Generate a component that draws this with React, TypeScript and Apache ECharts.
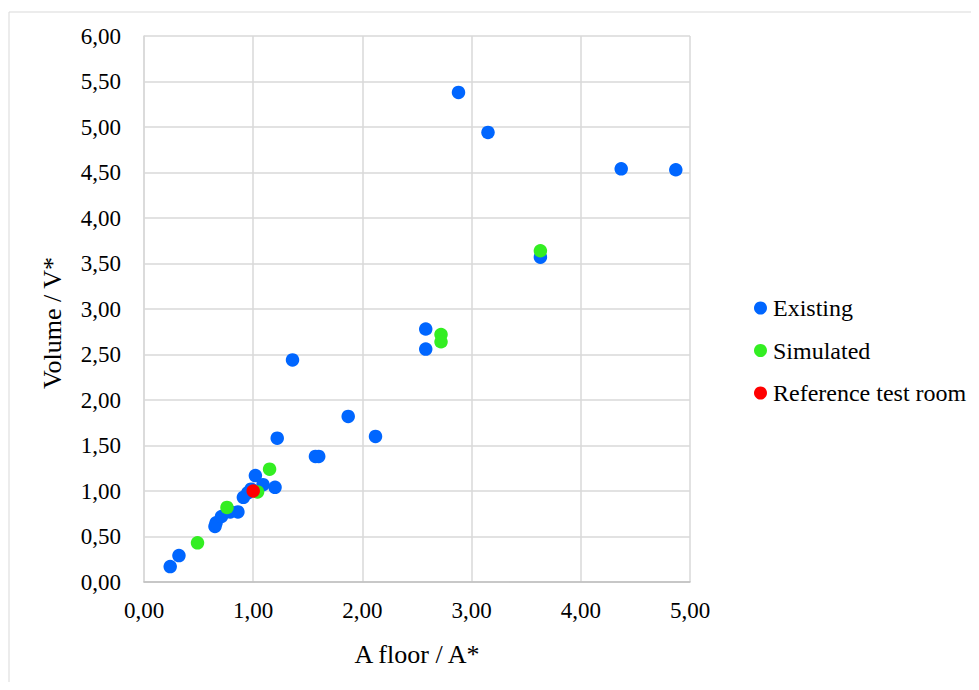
import React, { useEffect, useRef } from "react";
import * as echarts from "echarts";

const existingX = [0.24, 0.32, 0.65, 0.66, 0.71, 0.79, 0.86, 0.91, 0.95, 0.98, 1.02, 1.09, 1.2, 1.22, 1.36, 1.57, 1.6, 1.87, 2.12, 2.58, 2.58, 2.88, 3.15, 3.63, 4.37, 4.87];
const existingY = [0.17, 0.29, 0.61, 0.65, 0.72, 0.77, 0.77, 0.93, 0.98, 1.02, 1.17, 1.07, 1.04, 1.58, 2.44, 1.38, 1.38, 1.82, 1.6, 2.78, 2.56, 5.38, 4.94, 3.57, 4.54, 4.53];
const simulatedX = [0.49, 0.76, 1.04, 1.15, 2.72, 2.72, 3.63];
const simulatedY = [0.43, 0.82, 0.99, 1.24, 2.72, 2.64, 3.64];
const referenceX = [1.0];
const referenceY = [1.0];
const seriesNames = ["Existing", "Simulated", "Reference test room"];
const xAxisTitle = "A floor / A*";
const yAxisTitle = "Volume / V*";

const FONT = "'Liberation Serif', 'Times New Roman', serif";
const fmt = (v: number) => v.toFixed(2).replace(".", ",");
const zip = (xs: number[], ys: number[]) => xs.map((x, i) => [x, ys[i]]);

export default function App() {
  const ref = useRef<HTMLDivElement>(null);
  useEffect(() => {
    if (!ref.current) return;
    const chart = echarts.init(ref.current, null, { renderer: "svg" });
    chart.setOption({
      animation: false,
      backgroundColor: "#ffffff",
      graphic: [
        {
          type: "rect",
          shape: { x: 1, y: 4, width: 1200, height: 1200 },
          style: { fill: "none", stroke: "#d9d9d9", lineWidth: 1 },
          silent: true,
          z: -1,
        },
        {
          type: "text",
          x: 44.5,
          y: 315,
          rotation: Math.PI / 2,
          style: {
            text: yAxisTitle,
            fontFamily: FONT,
            fontSize: 26,
            fill: "#000",
            textAlign: "center",
            textVerticalAlign: "middle",
          },
          silent: true,
        },
      ],
      grid: { left: 136, top: 28, width: 546, height: 546, containLabel: false },
      legend: {
        orient: "vertical",
        left: 746,
        top: 288,
        padding: 0,
        itemGap: 18.5,
        itemWidth: 13,
        itemHeight: 13,
        icon: "circle",
        textStyle: { fontFamily: FONT, fontSize: 24, color: "#000", padding: [0, 0, 0, 1] },
        data: seriesNames,
      },
      xAxis: {
        type: "value",
        min: 0,
        max: 5,
        interval: 1,
        name: xAxisTitle,
        nameLocation: "middle",
        nameGap: 59,
        nameTextStyle: { fontFamily: FONT, fontSize: 26, color: "#000" },
        axisLine: { show: true, lineStyle: { color: "#bfbfbf", width: 1.5 } },
        axisTick: { show: false },
        axisLabel: { formatter: fmt, fontFamily: FONT, fontSize: 23, color: "#000", margin: 17 },
        splitLine: { show: true, lineStyle: { color: "#d9d9d9", width: 1.5 } },
      },
      yAxis: {
        type: "value",
        min: 0,
        max: 6,
        interval: 0.5,
        axisLine: { show: true, lineStyle: { color: "#d9d9d9", width: 1.5 } },
        axisTick: { show: false },
        axisLabel: { formatter: fmt, fontFamily: FONT, fontSize: 23, color: "#000", margin: 23 },
        splitLine: { show: true, lineStyle: { color: "#d9d9d9", width: 1.5 } },
      },
      series: [
        {
          name: seriesNames[0],
          type: "scatter",
          symbolSize: 13.5,
          itemStyle: { color: "#0066ff", opacity: 1 },
          data: zip(existingX, existingY),
          z: 2,
        },
        {
          name: seriesNames[1],
          type: "scatter",
          symbolSize: 13.5,
          itemStyle: { color: "#33ee22", opacity: 1 },
          data: zip(simulatedX, simulatedY),
          z: 3,
        },
        {
          name: seriesNames[2],
          type: "scatter",
          symbolSize: 13.5,
          itemStyle: { color: "#ff0000", opacity: 1 },
          data: zip(referenceX, referenceY),
          z: 4,
        },
      ],
    });
    return () => chart.dispose();
  }, []);
  return <div ref={ref} style={{ width: 963, height: 674 }} />;
}
